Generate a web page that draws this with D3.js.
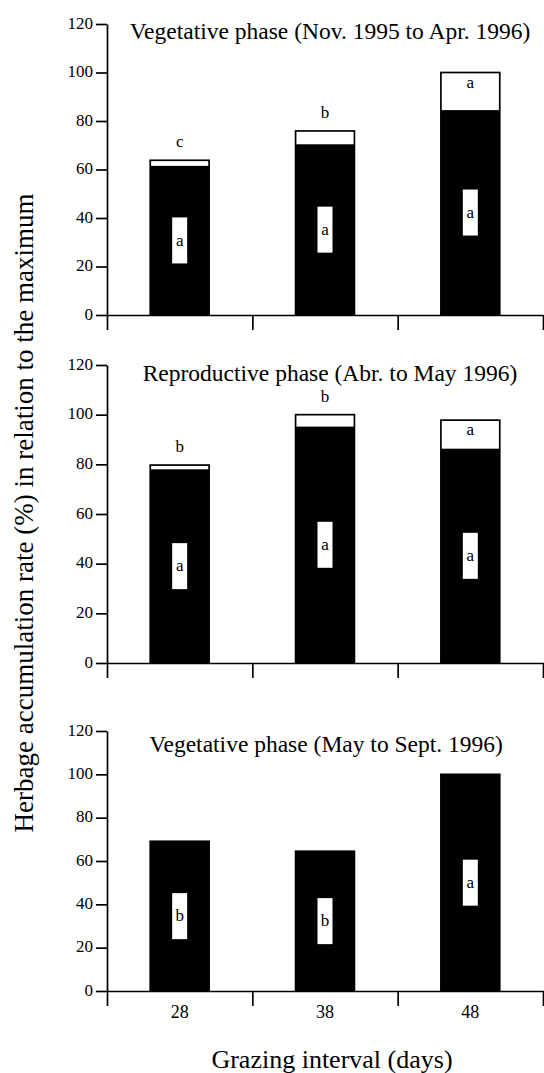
<!DOCTYPE html>
<html>
<head>
<meta charset="utf-8">
<script src="https://cdn.jsdelivr.net/npm/d3@7"></script>
<style>
  html, body { margin: 0; padding: 0; background: #fff; }
  svg { display: block; }
  svg text { font-family: "Liberation Serif", "Times New Roman", serif !important; fill: #000; }
</style>
</head>
<body>
<div id="chart"></div>
<script>
// data
var intervals = ["28", "38", "48"];
var phaseTitles = [
    "Vegetative phase (Nov. 1995 to Apr. 1996)",
    "Reproductive phase (Abr. to May 1996)",
    "Vegetative phase (May to Sept. 1996)"
];
var totalRate = [
    [63.8, 75.9, 100],
    [79.7, 100, 97.8],
    [69.1, 64.5, 100]
];
var blackRate = [
    [61.5, 70.4, 84.5],
    [78, 95.2, 86.3],
    [69.1, 64.5, 100]
];
var topLetters = [
    ["c", "b", "a"],
    ["b", "b", "a"],
    ["", "", ""]
];
var innerLetters = [
    ["a", "a", "a"],
    ["a", "a", "a"],
    ["b", "b", "a"]
];
var yTicks = [0, 20, 40, 60, 80, 100, 120];

var width = 544, height = 1073;
var serif = "'Liberation Serif', 'Times New Roman', serif";

// layout of the three stacked panels (pixel positions of 0 and 120)
var panels = [
    { zero: 315, top: 24, titleY: 38.5, titleX: 330 },
    { zero: 663, top: 365, titleY: 381, titleX: 330 },
    { zero: 991, top: 731, titleY: 752, titleX: 326 }
];

var axisLeftX = 107, axisRightX = 543;
var lineW = 1.7;

var svg = d3.select("#chart").append("svg")
    .attr("width", width)
    .attr("height", height)
    .attr("font-family", serif);

var xBand = d3.scaleBand()
    .domain(intervals)
    .range([axisLeftX, axisRightX])
    .padding(0);

var xEdge = d3.scaleLinear()
    .domain([0, intervals.length])
    .range([axisLeftX, axisRightX]);

var barW = xBand.bandwidth() * 0.405;

panels.forEach(function(p, pi) {
    var y = d3.scaleLinear().domain([0, 120]).range([p.zero, p.top]);
    var g = svg.append("g");

    // y axis
    var yAxis = g.append("g")
        .attr("transform", "translate(" + axisLeftX + ",0)")
        .call(d3.axisLeft(y).tickValues(yTicks).tickSize(11).tickSizeOuter(0).tickPadding(3));
    yAxis.attr("font-family", serif).attr("font-size", 17);
    yAxis.selectAll("path, line").attr("stroke", "#000").attr("stroke-width", lineW);
    yAxis.selectAll("text")
        .attr("dy", "0.25em")
        .attr("fill", "#000");

    // x axis with ticks at category edges
    var xAxis = g.append("g")
        .attr("transform", "translate(0," + p.zero + ")")
        .call(d3.axisBottom(xEdge).tickValues(d3.range(0, intervals.length + 1)).tickSize(15).tickSizeOuter(0).tickFormat(""));
    xAxis.selectAll("path, line").attr("stroke", "#000").attr("stroke-width", lineW);

    var rows = intervals.map(function(d, i) {
        return { cat: d, total: totalRate[pi][i], black: blackRate[pi][i],
                 top: topLetters[pi][i], inner: innerLetters[pi][i] };
    });

    // outer outline (white part on top)
    g.selectAll("rect.outer")
        .data(rows)
        .join("rect")
        .attr("class", "outer")
        .attr("x", function(d) { return xBand(d.cat) + (xBand.bandwidth() - barW) / 2; })
        .attr("y", function(d) { return y(d.total); })
        .attr("width", barW)
        .attr("height", function(d) { return y(0) - y(d.total); })
        .attr("fill", "#fff")
        .attr("stroke", "#000")
        .attr("stroke-width", lineW);

    // black part
    g.selectAll("rect.black")
        .data(rows)
        .join("rect")
        .attr("class", "black")
        .attr("x", function(d) { return xBand(d.cat) + (xBand.bandwidth() - barW) / 2; })
        .attr("y", function(d) { return y(d.black); })
        .attr("width", barW)
        .attr("height", function(d) { return y(0) - y(d.black); })
        .attr("fill", "#000");

    // white label box inside the black part
    var boxW = 15, boxH = 46;
    g.selectAll("rect.box")
        .data(rows)
        .join("rect")
        .attr("class", "box")
        .attr("x", function(d) { return xBand(d.cat) + xBand.bandwidth() / 2 - boxW / 2; })
        .attr("y", function(d) { return y(d.black / 2) - boxH / 2; })
        .attr("width", boxW)
        .attr("height", boxH)
        .attr("fill", "#fff");

    g.selectAll("text.inner")
        .data(rows)
        .join("text")
        .attr("class", "inner")
        .attr("x", function(d) { return xBand(d.cat) + xBand.bandwidth() / 2; })
        .attr("y", function(d) { return y(d.black / 2); })
        .attr("dy", "0.3em")
        .attr("text-anchor", "middle")
        .attr("font-size", 17)
        .text(function(d) { return d.inner; });

    // letter on top: inside the white part if it is tall, otherwise above
    g.selectAll("text.top")
        .data(rows)
        .join("text")
        .attr("class", "top")
        .attr("x", function(d) { return xBand(d.cat) + xBand.bandwidth() / 2; })
        .attr("y", function(d) {
            var whitePx = y(d.black) - y(d.total);
            return whitePx > 20 ? y(d.total) + 15 : y(d.total) - 13;
        })
        .attr("text-anchor", "middle")
        .attr("font-size", 17)
        .text(function(d) { return d.top; });

    // panel title
    g.append("text")
        .attr("x", p.titleX)
        .attr("y", p.titleY)
        .attr("text-anchor", "middle")
        .attr("font-size", 23.5)
        .text(phaseTitles[pi]);

    // category labels only under the last panel
    if (pi === panels.length - 1) {
        g.selectAll("text.cat")
            .data(intervals)
            .join("text")
            .attr("class", "cat")
            .attr("x", function(d) { return xBand(d) + xBand.bandwidth() / 2; })
            .attr("y", p.zero + 27)
            .attr("text-anchor", "middle")
            .attr("font-size", 18)
            .text(function(d) { return d; });
    }
});

// axis titles
svg.append("text")
    .attr("transform", "translate(33,513) rotate(-90)")
    .attr("text-anchor", "middle")
    .attr("font-size", 27)
    .text("Herbage accumulation rate (%) in relation to the maximum");

svg.append("text")
    .attr("x", 332)
    .attr("y", 1068)
    .attr("text-anchor", "middle")
    .attr("font-size", 26)
    .text("Grazing interval (days)");
</script>
</body>
</html>
